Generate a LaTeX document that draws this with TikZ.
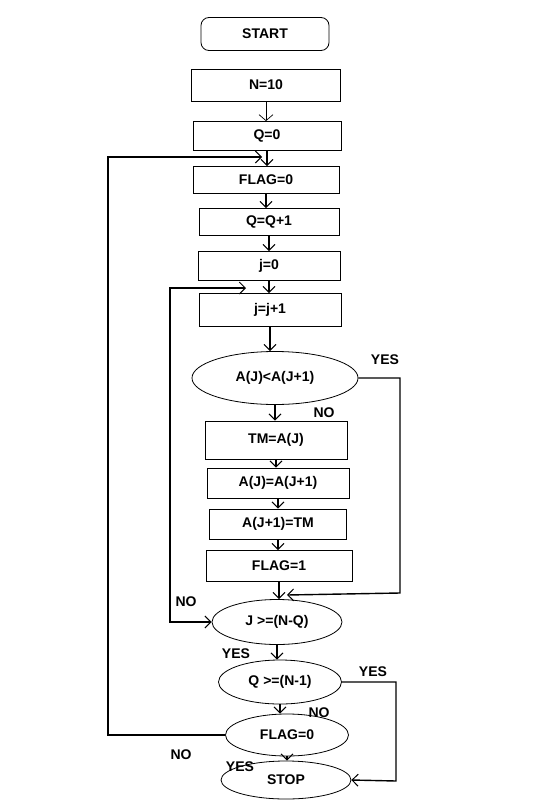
\documentclass[tikz,border=0pt]{standalone}
\usepackage{fontspec}
\setmainfont{Liberation Sans}
\usetikzlibrary{arrows.meta,shapes.geometric}
\tikzset{vtip/.tip={Straight Barb[length=6pt,width=12pt,line width=1pt]}}
\begin{document}
\begin{tikzpicture}[x=1pt,y=-1pt,
  txt/.style={font=\fontsize{14}{16}\selectfont\bfseries},
  box/.style={draw,line width=0.8pt,minimum width=#1,inner sep=0pt,txt},
  oval/.style={draw,ellipse,line width=0.8pt,inner sep=0pt,txt},
  lbl/.style={txt,inner sep=0pt},
  arr/.style={line width=1.4pt,-{vtip}},
  thinarr/.style={line width=0.7pt,-{Straight Barb[length=6pt,width=14pt,line width=0.7pt]}},
  ln/.style={line width=1.4pt}]
\useasboundingbox (0,0) rectangle (559,806);
\node[box=128pt,minimum height=33pt,rounded corners=8pt] (start) at (265,34) {START};
\node[box=149pt,minimum height=32pt] (n10) at (266,85) {N=10};
\node[box=148pt,minimum height=29pt] (q0) at (267,136) {Q=0};
\node[box=146pt,minimum height=27pt] (flag0) at (266,180) {FLAG=0};
\node[box=140pt,minimum height=27pt] (qq1) at (269,222) {Q=Q+1};
\node[box=142pt,minimum height=29pt] (j0) at (269,266) {j=0};
\node[box=142pt,minimum height=33pt] (jj1) at (270,310) {j=j+1};
\node[oval,minimum width=166pt,minimum height=53pt] (cmp) at (275,378) {A(J)<A(J+1)};
\node[box=142pt,minimum height=38pt] (tm) at (276,440) {TM=A(J)};
\node[box=142pt,minimum height=30pt] (aj) at (278,483) {A(J)=A(J+1)};
\node[box=137pt,minimum height=30pt] (aj1) at (278,524) {A(J+1)=TM};
\node[box=146pt,minimum height=31pt] (flag1) at (279,566) {FLAG=1};
\node[oval,minimum width=130pt,minimum height=45pt] (jnq) at (277,622) {J >=(N-Q)};
\node[oval,minimum width=123pt,minimum height=44pt] (qn1) at (280,682) {Q >=(N-1)};
\node[oval,minimum width=123pt,minimum height=42pt] (fl0) at (287,735) {FLAG=0};
\node[oval,minimum width=130pt,minimum height=38pt] (stop) at (286,780) {STOP};
% vertical flow
\draw[thinarr] (n10.south) -- (n10.south |- q0.north);
\draw[arr] (q0.south) -- (q0.south |- flag0.north);
\draw[arr] (flag0.south) -- (flag0.south |- qq1.north);
\draw[arr] (qq1.south) -- (qq1.south |- j0.north);
\draw[arr] (j0.south) -- (j0.south |- jj1.north);
\draw[arr] (jj1.south) -- (jj1.south |- cmp.north);
\draw[arr] (cmp.south) -- (cmp.south |- tm.north);
\draw[arr] (tm.south) -- (tm.south |- aj.north);
\draw[arr] (aj.south) -- (aj.south |- aj1.north);
\draw[arr] (aj1.south) -- (aj1.south |- flag1.north);
\draw[arr] (flag1.south) -- (flag1.south |- jnq.north);
\draw[arr] (jnq.south) -- (jnq.south |- qn1.north);
\draw[arr] (qn1.south) -- (qn1.south |- fl0.north);
\draw[arr] (fl0.south) -- (fl0.south |- stop.north);
% YES branch of comparison
\coordinate (m1) at (287,595);
\draw[arr] (cmp.east) -- (400,378) -- (400,593) -- (m1);
\node[lbl] at (385,360) {YES};
\node[lbl] at (324,413) {NO};
% NO loop of J>=(N-Q)
\coordinate (m2) at (246,288);
\draw[ln,{vtip}-{vtip}] (jnq.west) -- (170,622) -- (170,288) -- (m2);
\node[lbl] at (186,602) {NO};
\node[lbl] at (236,654) {YES};
% YES of Q>=(N-1)
\draw[arr] (qn1.east) -- (396,682) -- (396,781) -- (stop.east);
\node[lbl] at (373,672) {YES};
\node[lbl] at (319,713) {NO};
% NO of FLAG=0
\coordinate (m3) at (262,157);
\draw[arr] (fl0.west) -- (108,735) -- (108,157) -- (m3);
\node[lbl] at (181,755) {NO};
\node[lbl] at (240,767) {YES};
\end{tikzpicture}
\end{document}
